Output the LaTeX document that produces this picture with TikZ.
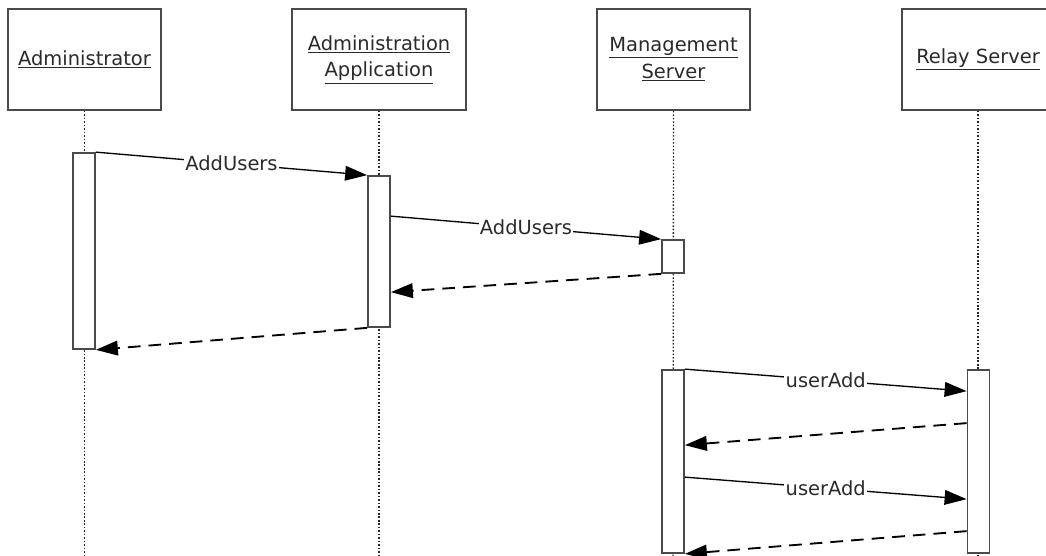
\documentclass[tikz,border=0pt]{standalone}
\usepackage{fontspec}
\setmainfont{DejaVu Sans}
\usetikzlibrary{arrows.meta}
\definecolor{boxgray}{HTML}{4A4A4A}
\definecolor{txtgray}{HTML}{2A2A2A}
\tikzset{
  headbox/.style={draw=boxgray, line width=1.3pt, fill=white, align=center, text=txtgray,
    font=\fontsize{14.6}{20}\selectfont, inner sep=0pt, minimum height=75.75pt},
  actbar/.style={draw=boxgray, line width=1.3pt, fill=white, inner sep=0pt, minimum width=16.5pt},
  lifeline/.style={draw=black!85, line width=1pt, dash pattern=on 1.2pt off 1.4pt},
  msg/.style={draw=black, line width=1pt, -{Triangle[length=16.5pt,width=11pt]}},
  ret/.style={msg, line width=1.4pt, dash pattern=on 9.5pt off 6pt},
  msglabel/.style={fill=white, inner sep=1pt, text=txtgray, font=\fontsize{14.6}{17}\selectfont}
}
\begin{document}
\begin{tikzpicture}[x=0.75pt, y=-0.75pt]
\useasboundingbox (0,0) rectangle (1046,556);
\clip (0,0) rectangle (1046,556);
% lifeline heads
\node[headbox, minimum width=114.75pt] (adm) at (84.5,59.5) {\underline{Administrator}};
\node[headbox, minimum width=130.5pt] (app) at (379,59.5) {\underline{Administration}\\\underline{Application}};
\node[headbox, minimum width=114.75pt] (mgm) at (673.5,59.5) {\underline{Management}\\\underline{Server}};
\node[headbox, minimum width=114pt] (rel) at (978,59.5) {\underline{Relay Server}};
% lifeline ends
\coordinate (admend) at (84.5,560);
\coordinate (append) at (379,560);
\coordinate (mgmend) at (673,560);
\coordinate (relend) at (978,560);
\draw[lifeline] (adm.south) -- (admend);
\draw[lifeline] (app.south) -- (append);
\draw[lifeline] (mgm.south) -- (mgmend);
\draw[lifeline] (rel.south) -- (relend);
% activation bars
\node[actbar, minimum height=147pt] (a1) at (84,251) {};
\node[actbar, minimum height=113.25pt] (b1) at (379,251.5) {};
\node[actbar, minimum height=24.75pt] (c1) at (673,256.5) {};
\node[actbar, minimum height=137.25pt] (c2) at (673,461.5) {};
\node[actbar, minimum height=137.25pt] (d1) at (978.5,461.5) {};
% messages
\draw[msg] (a1.north east) -- node[msglabel] {AddUsers} (b1.north west);
\draw[msg] ([yshift=-30.75pt]b1.north east) -- node[msglabel] {AddUsers} (c1.north west);
\draw[ret] (c1.south west) -- ([yshift=-87.75pt]b1.north east);
\draw[ret] (b1.south west) -- (a1.south east);
\draw[msg] (c2.north east) -- node[msglabel] {userAdd} ([yshift=-16.5pt]d1.north west);
\draw[ret] ([yshift=-40.5pt]d1.north west) -- ([yshift=-57pt]c2.north east);
\draw[msg] ([yshift=-81pt]c2.north east) -- node[msglabel] {userAdd} ([yshift=-97.5pt]d1.north west);
\draw[ret] ([yshift=-121.5pt]d1.north west) -- (c2.south east);
\end{tikzpicture}
\end{document}
